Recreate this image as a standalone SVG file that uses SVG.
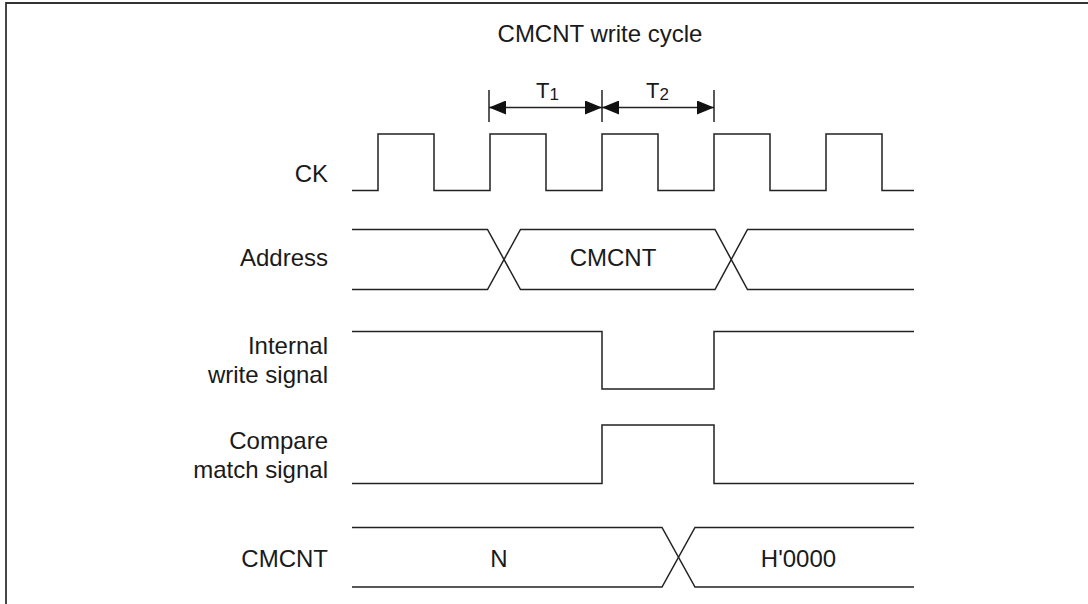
<svg xmlns="http://www.w3.org/2000/svg" width="1088" height="604" viewBox="0 0 1088 604">
<style>
text{font-family:"Liberation Sans",Arial,sans-serif;font-size:24px;fill:#1a1a1a}
.lbl{text-anchor:end}
.mid{text-anchor:middle}
.sig{fill:none;stroke:#222;stroke-width:1.5;stroke-linejoin:miter}
.tick{stroke:#222;stroke-width:1.5}
.tt{font-size:22px}
.sub{font-size:17px}
</style>
<defs>
<marker id="ah" viewBox="0 0 17 14" refX="17" refY="7" markerWidth="17" markerHeight="14" markerUnits="userSpaceOnUse" orient="auto-start-reverse">
<path d="M0,0 L17,7 L0,14 Z" fill="#111"/>
</marker>
</defs>
<rect width="1088" height="604" fill="#fff"/>
<g id="frame">
<path d="M6,604 V3 H1088" fill="none" stroke="#333" stroke-width="1.8"/>
</g>
<g id="title"><text class="mid" x="600" y="42">CMCNT write cycle</text></g>
<g id="labels">
<text class="lbl" x="328" y="182">CK</text>
<text class="lbl" x="328" y="266">Address</text>
<text class="lbl" x="328" y="354">Internal</text>
<text class="lbl" x="328" y="383">write signal</text>
<text class="lbl" x="328" y="449">Compare</text>
<text class="lbl" x="328" y="478">match signal</text>
<text class="lbl" x="328" y="567">CMCNT</text>
</g>
<g id="period-T1">
<text class="tt" x="536" y="98">T<tspan class="sub" dy="2">1</tspan></text>
</g>
<g id="period-T2">
<text class="tt" x="646" y="98">T<tspan class="sub" dy="2">2</tspan></text>
</g>
<g id="connectors">
<line class="tick" x1="489" y1="90" x2="489" y2="122"/>
<line class="tick" x1="602" y1="90" x2="602" y2="122"/>
<line class="tick" x1="714" y1="90" x2="714" y2="122"/>
<line class="tick" x1="489" y1="107.5" x2="602" y2="107.5" marker-start="url(#ah)" marker-end="url(#ah)"/>
<line class="tick" x1="602" y1="107.5" x2="714" y2="107.5" marker-start="url(#ah)" marker-end="url(#ah)"/>
</g>
<g id="sig-ck">
<path class="sig" d="M352,190.5 H378 V134 H434 V190.5 H490 V134 H546 V190.5 H602 V134 H658 V190.5 H714 V134 H770 V190.5 H826 V134 H882 V190.5 H914"/>
</g>
<g id="sig-address">
<path class="sig" d="M352,229.5 H487.5 L520.5,289.5 H715 L747.5,229.5 H914"/>
<path class="sig" d="M352,289.5 H487.5 L520.5,229.5 H715 L747.5,289.5 H914"/>
<text class="mid" x="613" y="266">CMCNT</text>
</g>
<g id="sig-write">
<path class="sig" d="M352,331.5 H602 V389 H714 V331.5 H914"/>
</g>
<g id="sig-compare">
<path class="sig" d="M352,483.5 H602 V425 H714 V483.5 H914"/>
</g>
<g id="sig-cmcnt">
<path class="sig" d="M352,527.5 H662 L695,587 H914"/>
<path class="sig" d="M352,587 H662 L695,527.5 H914"/>
<text class="mid" x="499" y="567">N</text>
<text class="mid" x="798.5" y="567">H'0000</text>
</g>
</svg>
